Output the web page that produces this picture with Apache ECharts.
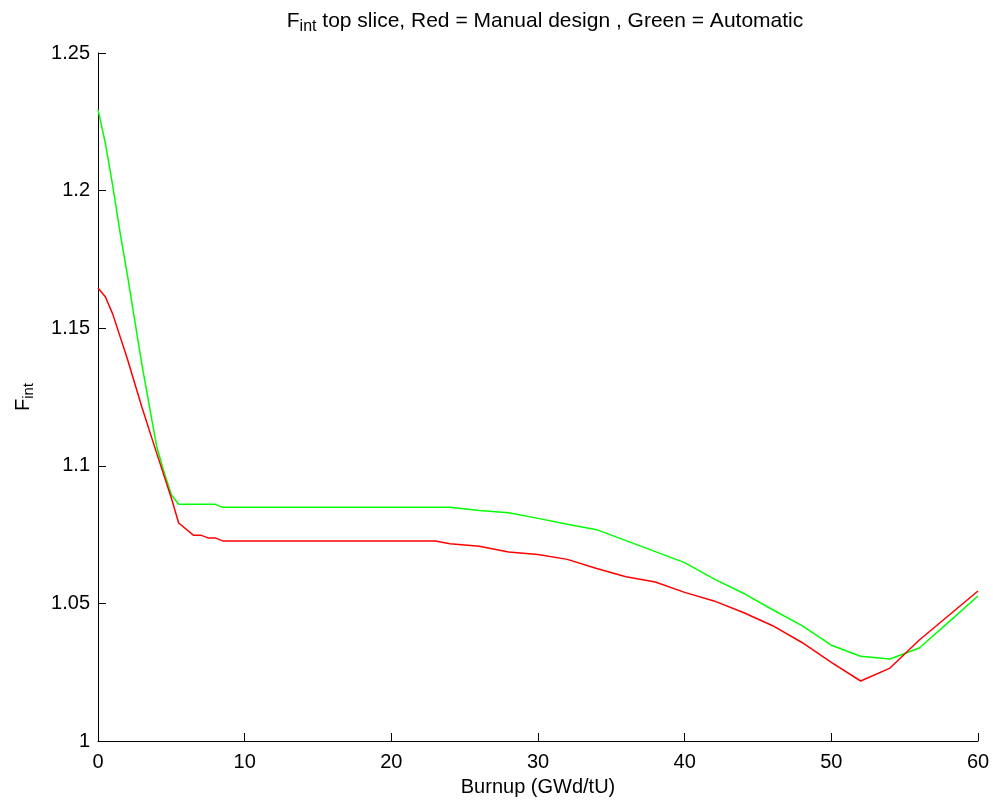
<!DOCTYPE html>
<html>
<head>
<meta charset="utf-8">
<script src="https://cdn.jsdelivr.net/npm/echarts@6/dist/echarts.min.js"></script>
<style>
  html, body { margin: 0; padding: 0; background: #fff; }
  #chart { width: 993px; height: 802px; }
</style>
</head>
<body>
<div id="chart"></div>
<script>
// Burnup (GWd/tU) and F_int for the manual design (red)
const manualBurnup = [0, 0.5, 1, 2, 3, 4, 5, 5.5, 6.5, 7, 7.5, 8, 8.5, 23, 24, 26, 28, 30, 32, 34, 36, 38, 40, 42, 44, 46, 48, 50, 52, 54, 56, 58, 60];
const manualFint   = [1.1646, 1.1614, 1.1552, 1.1389, 1.1212, 1.1046, 1.0883, 1.0792, 1.0748, 1.0748, 1.0738, 1.0738, 1.0727, 1.0727, 1.0717, 1.0708, 1.0687, 1.0678, 1.0660, 1.0627, 1.0597, 1.0578, 1.0540, 1.0509, 1.0467, 1.0419, 1.0358, 1.0286, 1.0218, 1.0265, 1.0367, 1.0456, 1.0545];

// Burnup (GWd/tU) and F_int for the automatic design (green)
const autoBurnup = [0, 0.5, 1, 1.5, 2, 3, 4, 4.5, 5, 5.5, 8, 8.5, 24, 26, 28, 30, 32, 34, 36, 38, 40, 42, 44, 46, 48, 50, 52, 54, 56, 58, 60];
const autoFint   = [1.2294, 1.2173, 1.2019, 1.1849, 1.1695, 1.1366, 1.1070, 1.0978, 1.0895, 1.0860, 1.0860, 1.0849, 1.0849, 1.0838, 1.0829, 1.0809, 1.0788, 1.0768, 1.0728, 1.0688, 1.0648, 1.0589, 1.0537, 1.0477, 1.0419, 1.0348, 1.0308, 1.0298, 1.0338, 1.0432, 1.0527];

const xTicks = [0, 10, 20, 30, 40, 50, 60];
const yTicks = [1, 1.05, 1.1, 1.15, 1.2, 1.25];

const FONT = '"Liberation Sans", Arial, Helvetica, sans-serif';
const SIZE = 20;
const SUB = 15;
const pair = (xs, ys) => xs.map((x, i) => [x, ys[i]]);

const chart = echarts.init(document.getElementById('chart'), null, { renderer: 'canvas' });

chart.setOption({
  backgroundColor: '#ffffff',
  animation: false,
  title: {
    text: '{main|F}{sub|int}{main| top slice, Red = Manual design , Green = Automatic}',
    left: 540,
    textAlign: 'center',
    top: 2,
    textStyle: {
      rich: {
        main: { fontFamily: FONT, fontSize: 21, color: '#000', fontWeight: 'normal' },
        sub: { fontFamily: FONT, fontSize: 16, color: '#000', fontWeight: 'normal', verticalAlign: 'bottom', padding: [12, 0, 0, 0] }
      }
    }
  },
  grid: { left: 98, right: 15, top: 53, bottom: 58, containLabel: false },
  xAxis: {
    type: 'value',
    min: xTicks[0],
    max: xTicks[xTicks.length - 1],
    interval: 10,
    name: 'Burnup (GWd/tU)',
    nameLocation: 'middle',
    nameGap: 36,
    nameTextStyle: { fontFamily: FONT, fontSize: SIZE, color: '#000' },
    axisLine: { show: true, onZero: false, lineStyle: { color: '#000', width: 1 } },
    axisTick: { show: true, inside: true, length: 8, lineStyle: { color: '#000' } },
    axisLabel: { fontFamily: FONT, fontSize: SIZE, color: '#000', margin: 11 },
    splitLine: { show: false }
  },
  yAxis: {
    type: 'value',
    min: yTicks[0],
    max: yTicks[yTicks.length - 1],
    interval: 0.05,
    name: '{main|F}{sub|int}',
    nameLocation: 'middle',
    nameRotate: 90,
    nameGap: 62,
    nameTextStyle: {
      rich: {
        main: { fontFamily: FONT, fontSize: SIZE, color: '#000' },
        sub: { fontFamily: FONT, fontSize: SUB, color: '#000', verticalAlign: 'bottom', padding: [11, 0, 0, 0] }
      }
    },
    axisLine: { show: true, onZero: false, lineStyle: { color: '#000', width: 1 } },
    axisTick: { show: true, inside: true, length: 8, lineStyle: { color: '#000' } },
    axisLabel: {
      fontFamily: FONT, fontSize: SIZE, color: '#000', margin: 8,
      formatter: v => String(+v.toFixed(2))
    },
    splitLine: { show: false }
  },
  series: [
    {
      name: 'Manual design',
      type: 'line',
      data: pair(manualBurnup, manualFint),
      showSymbol: false,
      lineStyle: { color: '#ff0000', width: 1.5 },
      itemStyle: { color: '#ff0000' },
      z: 3
    },
    {
      name: 'Automatic',
      type: 'line',
      data: pair(autoBurnup, autoFint),
      showSymbol: false,
      lineStyle: { color: '#00ff00', width: 1.5 },
      itemStyle: { color: '#00ff00' },
      z: 2
    }
  ]
});
</script>
</body>
</html>
